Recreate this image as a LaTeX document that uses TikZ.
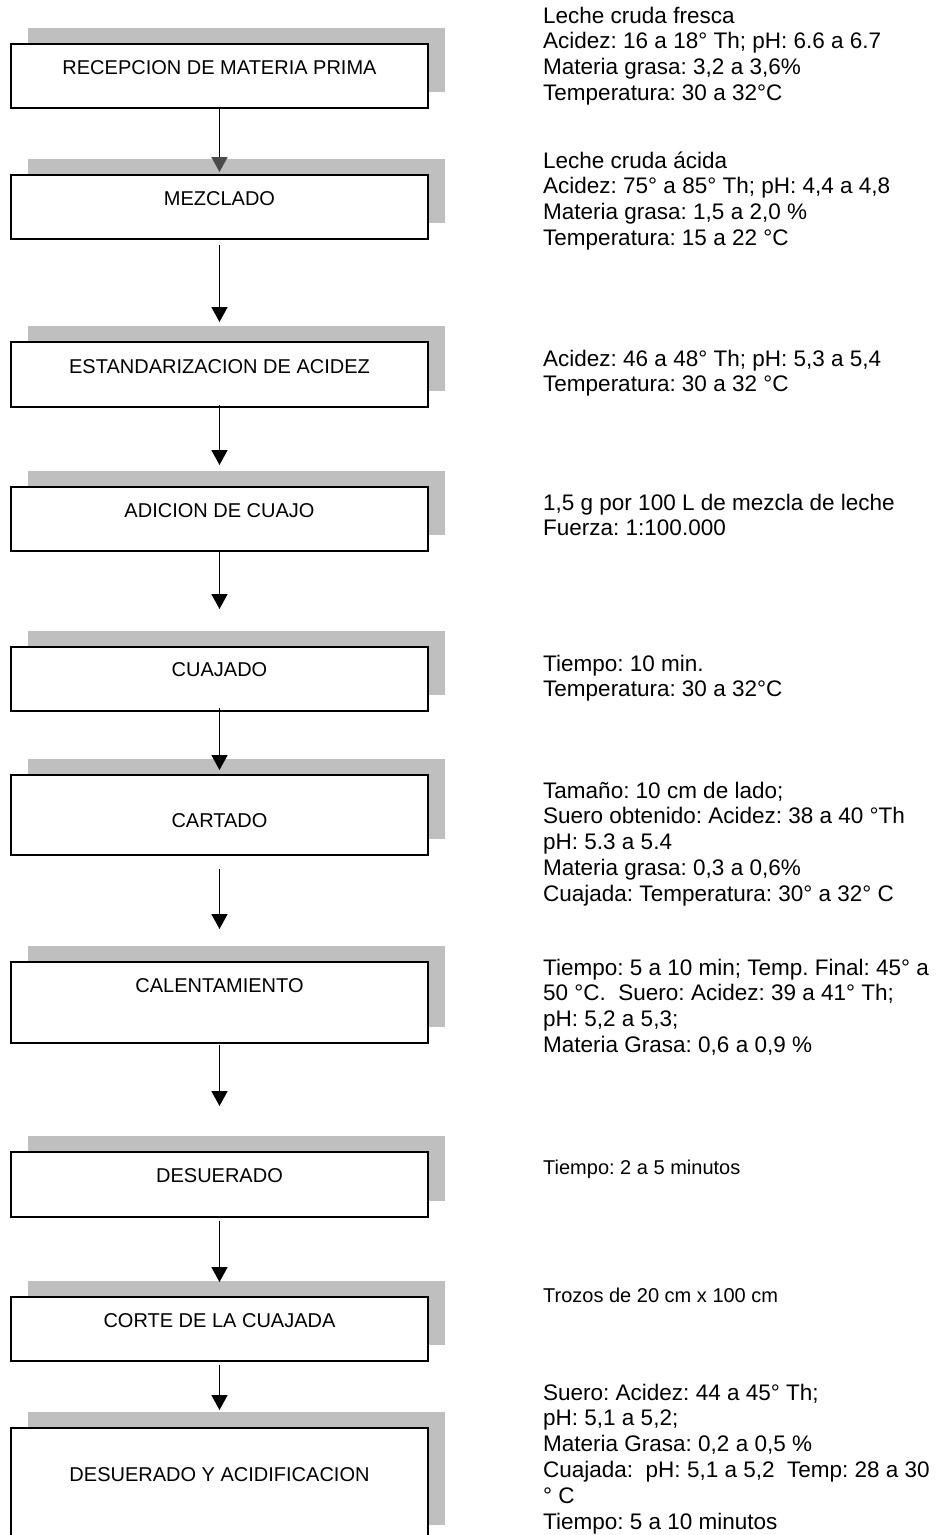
\documentclass[tikz,border=0pt]{standalone}
\usepackage{fontspec}
\setmainfont{Liberation Sans}
\frenchspacing
\usetikzlibrary{arrows.meta,shadows}
\definecolor{shadowgray}{HTML}{BFBFBF}
\definecolor{headgray}{HTML}{4A4A4A}
\tikzset{
  stepbox/.style={draw=black, line width=2pt, fill=white, minimum width=417pt,
    inner xsep=0pt, inner ysep=0pt, anchor=north west,
    font=\fontsize{20}{23}\selectfont,
    drop shadow={shadow xshift=17pt, shadow yshift=16pt, fill=shadowgray, opacity=1}},
  note/.style={anchor=base west, inner sep=0pt},
  arr/.style={line width=1.6pt, -{Triangle[length=15pt,width=16pt]}}
}
\newcommand{\bigtxt}[1]{\parbox[t]{420pt}{\raggedright\frenchspacing\fontsize{22.5}{25.9}\selectfont #1}}
\newcommand{\smalltxt}[1]{\parbox[t]{420pt}{\raggedright\frenchspacing\fontsize{20}{23}\selectfont #1}}
\begin{document}
\begin{tikzpicture}[x=1pt,y=-1pt]
\clip (0,0) rectangle (941,1535);
\fill[white] (0,0) rectangle (941,1535);

% process boxes
\node[stepbox, text height=30pt, text depth=34pt] (b1) at (10,43) {RECEPCION DE MATERIA PRIMA};
\node[stepbox, text height=30pt, text depth=34pt] (b2) at (10,174) {MEZCLADO};
\node[stepbox, text height=31pt, text depth=34pt] (b3) at (10,341) {ESTANDARIZACION DE ACIDEZ};
\node[stepbox, text height=30pt, text depth=34pt] (b4) at (10,486) {ADICION DE CUAJO};
\node[stepbox, text height=29pt, text depth=35pt] (b5) at (10,646) {CUAJADO};
\node[stepbox, text height=52pt, text depth=28pt] (b6) at (10,774) {CARTADO};
\node[stepbox, text height=30pt, text depth=51pt] (b7) at (10,961) {CALENTAMIENTO};
\node[stepbox, text height=30pt, text depth=35pt] (b8) at (10,1151) {DESUERADO};
\node[stepbox, text height=30pt, text depth=34pt] (b9) at (10,1296) {CORTE DE LA CUAJADA};
\node[stepbox, text height=53pt, text depth=60pt] (b10) at (10,1427) {DESUERADO Y ACIDIFICACION};

% connectors
\draw[line width=1.6pt, -{Triangle[length=15pt,width=16pt,color=headgray]}] (b1.south) -- ([yshift=2pt]b2.north);
\draw[arr] ([yshift=-5pt]b2.south) -- ([yshift=19pt]b3.north);
\draw[arr] ([yshift=3pt]b3.south) -- ([yshift=21pt]b4.north);
\draw[arr] ([yshift=2pt]b4.south) -- ([yshift=37pt]b5.north);
\draw[arr] ([yshift=4pt]b5.south) -- ([yshift=4pt]b6.north);
\draw[arr] ([yshift=-13pt]b6.south) -- ([yshift=32pt]b7.north);
\draw[arr] ([yshift=-1pt]b7.south) -- ([yshift=45pt]b8.north);
\draw[arr] ([yshift=-3pt]b8.south) -- ([yshift=14pt]b9.north);
\draw[arr] ([yshift=-3pt]b9.south) -- ([yshift=17pt]b10.north);

% notes
\node[note] (n1) at (543,23) {\bigtxt{Leche cruda fresca\\ Acidez: 16 a 18° Th; pH: 6.6 a 6.7\\ Materia grasa: 3,2 a 3,6\%\\ Temperatura: 30 a 32°C}};
\node[note] (n2) at (543,168) {\bigtxt{Leche cruda ácida\\ Acidez: 75° a 85° Th; pH: 4,4 a 4,8\\ Materia grasa: 1,5 a 2,0 \%\\ Temperatura: 15 a 22 °C}};
\node[note] (n3) at (543,366) {\bigtxt{Acidez: 46 a 48° Th; pH: 5,3 a 5,4\\ Temperatura: 30 a 32 °C}};
\node[note] (n4) at (543,510) {\bigtxt{1,5 g por 100 L de mezcla de leche\\ Fuerza: 1:100.000}};
\node[note] (n5) at (543,671) {\bigtxt{Tiempo: 10 min.\\ Temperatura: 30 a 32°C}};
\node[note] (n6) at (543,798) {\bigtxt{Tamaño: 10 cm de lado;\\ Suero obtenido: Acidez: 38 a 40 °Th\\ pH: 5.3 a 5.4\\ Materia grasa: 0,3 a 0,6\%\\ Cuajada: Temperatura: 30° a 32° C}};
\node[note] (n7) at (543,975) {\bigtxt{Tiempo: 5 a 10 min; Temp. Final: 45° a\\ 50 °C.\ \ Suero: Acidez: 39 a 41° Th;\\ pH: 5,2 a 5,3;\\ Materia Grasa: 0,6 a 0,9 \%}};
\node[note] (n8) at (543,1174) {\smalltxt{Tiempo: 2 a 5 minutos}};
\node[note] (n9) at (543,1302) {\smalltxt{Trozos de 20 cm x 100 cm}};
\node[note] (n10) at (543,1400) {\bigtxt{Suero: Acidez: 44 a 45° Th;\\ pH: 5,1 a 5,2;\\ Materia Grasa: 0,2 a 0,5 \%\\ Cuajada:\ \ pH: 5,1 a 5,2\ \ Temp: 28 a 30\\ ° C\\ Tiempo: 5 a 10 minutos}};
\end{tikzpicture}
\end{document}
